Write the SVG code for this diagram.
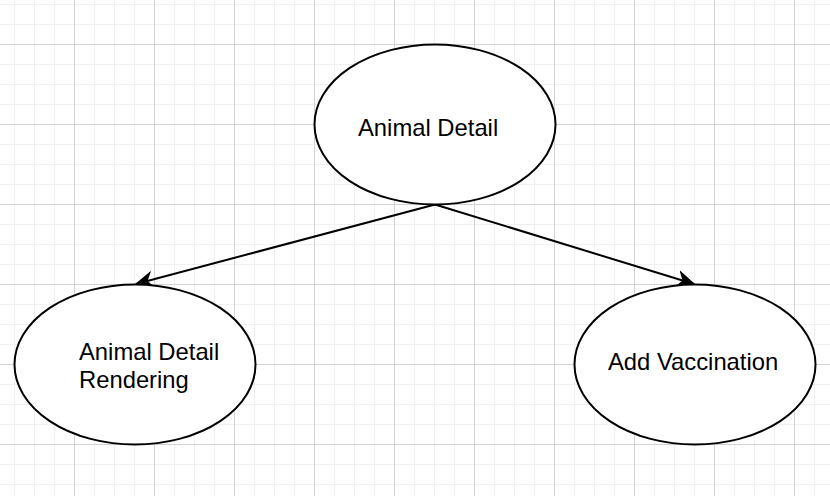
<svg xmlns="http://www.w3.org/2000/svg" width="830" height="496" viewBox="0 0 830 496">
  <defs>
    <pattern id="grid" patternUnits="userSpaceOnUse" x="-6" y="-36" width="80" height="80">
      <rect x="0" y="0" width="80" height="80" fill="#ffffff"/>
      <rect x="20" y="0" width="1" height="80" fill="#f0f0f0"/>
      <rect x="40" y="0" width="1" height="80" fill="#f0f0f0"/>
      <rect x="60" y="0" width="1" height="80" fill="#f0f0f0"/>
      <rect x="0" y="20" width="80" height="1" fill="#f0f0f0"/>
      <rect x="0" y="40" width="80" height="1" fill="#f0f0f0"/>
      <rect x="0" y="60" width="80" height="1" fill="#f0f0f0"/>
      <rect x="0" y="0" width="1" height="80" fill="#d3d3d3"/>
      <rect x="0" y="0" width="80" height="1" fill="#d3d3d3"/>
    </pattern>
    <marker id="arrow" markerUnits="userSpaceOnUse" markerWidth="20" markerHeight="20" viewBox="-14 -8 16 16" refX="0" refY="0" orient="auto">
      <path d="M0,0 L-13,-6 L-9,0 L-13,6 Z" fill="#000" stroke="#000" stroke-width="1" stroke-linejoin="miter"/>
    </marker>
    <style>
      .node ellipse { fill: #ffffff; stroke: #000000; stroke-width: 2; }
      .node text { font-family: "Liberation Sans", Arial, Helvetica, sans-serif; font-size: 23.8px; fill: #000000; }
      .edge { fill: none; stroke: #000000; stroke-width: 2; marker-end: url(#arrow); }
    </style>
  </defs>
  <rect x="0" y="0" width="830" height="496" fill="url(#grid)"/>
  <g id="connectors">
    <line class="edge" x1="435" y1="204.5" x2="136" y2="284"/>
    <line class="edge" x1="435" y1="204.5" x2="694" y2="284"/>
  </g>
  <g id="node-animal-detail" class="node">
    <ellipse cx="435" cy="124.5" rx="120.5" ry="80"/>
    <text x="358" y="136">Animal Detail</text>
  </g>
  <g id="node-animal-detail-rendering" class="node">
    <ellipse cx="135" cy="364.5" rx="120.5" ry="80"/>
    <text x="79" y="360">Animal Detail</text>
    <text x="79" y="388">Rendering</text>
  </g>
  <g id="node-add-vaccination" class="node">
    <ellipse cx="695" cy="364.5" rx="120.5" ry="80"/>
    <text x="608" y="369.5">Add Vaccination</text>
  </g>
</svg>
